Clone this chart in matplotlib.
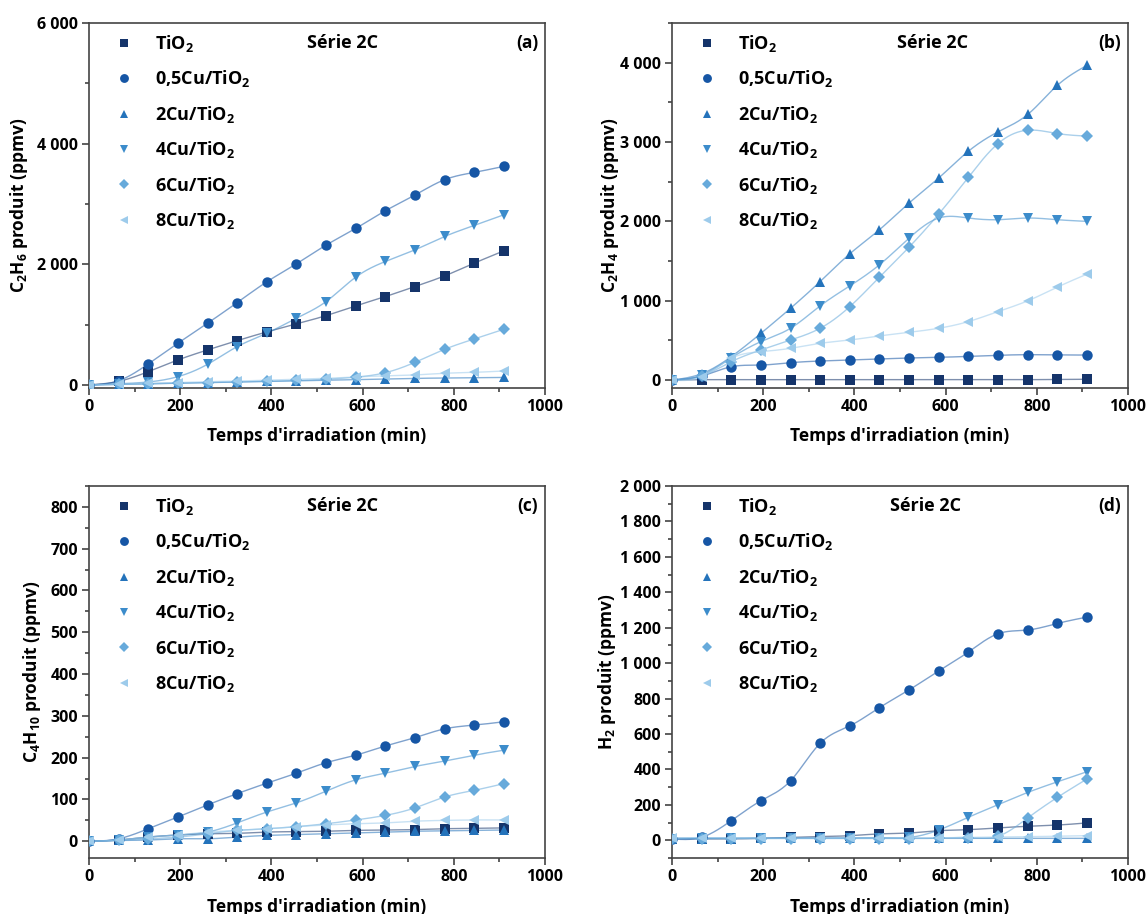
import numpy as np
import matplotlib
matplotlib.use('Agg')
import matplotlib.pyplot as plt
from matplotlib.lines import Line2D
from matplotlib.ticker import MultipleLocator, FuncFormatter

plt.rcParams['font.family'] = ['Open Sans', 'DejaVu Sans']
plt.rcParams['font.weight'] = 'bold'
plt.rcParams['mathtext.fontset'] = 'custom'
plt.rcParams['mathtext.rm'] = 'Open Sans:bold'
plt.rcParams['mathtext.bf'] = 'Open Sans:bold'
plt.rcParams['mathtext.it'] = 'Open Sans:bold'
plt.rcParams['mathtext.default'] = 'bf'

# ---------------- data ----------------
time_min = [0, 65, 130, 195, 260, 325, 390, 455, 520, 585, 650, 715, 780, 845, 910]
samples = ["TiO$_2$", "0,5Cu/TiO$_2$", "2Cu/TiO$_2$", "4Cu/TiO$_2$", "6Cu/TiO$_2$", "8Cu/TiO$_2$"]

# (a) C2H6
c2h6_tio2 = [0, 60, 221, 415, 581, 735, 880, 1013, 1150, 1311, 1466, 1632, 1809, 2020, 2224]
c2h6_05cu = [0, 71, 349, 692, 1024, 1366, 1710, 2009, 2319, 2595, 2888, 3149, 3403, 3524, 3624]
c2h6_2cu = [0, 10, 20, 30, 40, 50, 60, 70, 80, 90, 100, 110, 115, 120, 125]
c2h6_4cu = [0, 20, 50, 138, 343, 636, 858, 1107, 1383, 1788, 2047, 2241, 2462, 2645, 2822]
c2h6_6cu = [0, 10, 20, 30, 40, 50, 60, 75, 95, 130, 204, 376, 592, 763, 924]
c2h6_8cu = [0, 15, 30, 40, 55, 65, 80, 95, 110, 135, 150, 166, 194, 210, 232]

# (b) C2H4
c2h4_tio2 = [0, 5, 5, 5, 5, 5, 5, 5, 5, 5, 5, 5, 5, 8, 10]
c2h4_05cu = [0, 50, 168, 189, 219, 240, 253, 265, 278, 286, 299, 312, 320, 316, 316]
c2h4_2cu = [0, 80, 295, 589, 905, 1242, 1592, 1895, 2232, 2547, 2884, 3128, 3347, 3714, 3966]
c2h4_4cu = [0, 60, 280, 484, 653, 935, 1187, 1453, 1789, 2042, 2042, 2021, 2042, 2021, 2000]
c2h4_6cu = [0, 50, 232, 379, 505, 653, 926, 1297, 1676, 2093, 2556, 2981, 3149, 3107, 3074]
c2h4_8cu = [0, 40, 274, 358, 400, 463, 505, 556, 602, 653, 737, 863, 998, 1171, 1335]

# (c) C4H10
c4h10_tio2 = [0, 3, 10, 15, 18, 19, 22, 23, 24, 26, 27, 28, 30, 31, 32]
c4h10_05cu = [0, 6, 30, 58, 87, 114, 139, 163, 188, 206, 228, 248, 269, 278, 286]
c4h10_2cu = [0, 2, 3, 6, 6, 10, 14, 16, 18, 20, 22, 24, 25, 26, 27]
c4h10_4cu = [0, 3, 10, 15, 22, 44, 70, 92, 120, 147, 163, 179, 192, 206, 218]
c4h10_6cu = [0, 2, 6, 10, 18, 26, 30, 35, 42, 51, 62, 80, 106, 122, 138]
c4h10_8cu = [0, 3, 10, 15, 22, 26, 30, 35, 39, 42, 44, 48, 50, 51, 51]

# (d) H2
h2_tio2 = [10, 8, 8, 11, 17, 21, 26, 36, 41, 54, 60, 70, 79, 86, 98]
h2_05cu = [8, 17, 111, 223, 336, 548, 646, 749, 849, 956, 1063, 1166, 1187, 1224, 1260]
h2_2cu = [10, 10, 10, 11, 11, 11, 11, 11, 11, 11, 11, 11, 11, 11, 11]
h2_4cu = [10, 12, 12, 12, 13, 13, 14, 15, 16, 58, 130, 201, 270, 330, 387]
h2_6cu = [10, 10, 10, 10, 10, 10, 10, 10, 10, 12, 15, 23, 126, 242, 346]
h2_8cu = [12, 15, 12, 12, 12, 12, 12, 12, 12, 14, 16, 18, 20, 23, 26]

panels = [
    dict(series=[c2h6_tio2, c2h6_05cu, c2h6_2cu, c2h6_4cu, c2h6_6cu, c2h6_8cu],
         ylabel="C$_2$H$_6$ produit (ppmv)", tag="(a)", ylim=(-50, 6000), major=2000, minor=1000),
    dict(series=[c2h4_tio2, c2h4_05cu, c2h4_2cu, c2h4_4cu, c2h4_6cu, c2h4_8cu],
         ylabel="C$_2$H$_4$ produit (ppmv)", tag="(b)", ylim=(-100, 4500), major=1000, minor=500),
    dict(series=[c4h10_tio2, c4h10_05cu, c4h10_2cu, c4h10_4cu, c4h10_6cu, c4h10_8cu],
         ylabel="C$_4$H$_{10}$ produit (ppmv)", tag="(c)", ylim=(-40, 850), major=100, minor=50),
    dict(series=[h2_tio2, h2_05cu, h2_2cu, h2_4cu, h2_6cu, h2_8cu],
         ylabel="H$_2$ produit (ppmv)", tag="(d)", ylim=(-100, 2000), major=200, minor=100),
]

colors = ["#15346a", "#1656a5", "#2473bb", "#3c8ccb", "#67aadb", "#9dcbeb"]
markers = ["s", "o", "^", "v", "D", "<"]
msizes = [6.5, 7.5, 7.5, 7.5, 6.5, 7.5]


def natural_spline(x, y, n=400):
    x = np.asarray(x, float)
    y = np.asarray(y, float)
    m = len(x)
    h = np.diff(x)
    A = np.zeros((m, m))
    b = np.zeros(m)
    A[0, 0] = 1
    A[-1, -1] = 1
    for i in range(1, m - 1):
        A[i, i - 1] = h[i - 1]
        A[i, i] = 2 * (h[i - 1] + h[i])
        A[i, i + 1] = h[i]
        b[i] = 6 * ((y[i + 1] - y[i]) / h[i] - (y[i] - y[i - 1]) / h[i - 1])
    M = np.linalg.solve(A, b)
    xs = np.linspace(x[0], x[-1], n)
    idx = np.clip(np.searchsorted(x, xs) - 1, 0, m - 2)
    x0, x1 = x[idx], x[idx + 1]
    hh = x1 - x0
    t0 = x1 - xs
    t1 = xs - x0
    ys = (M[idx] * t0 ** 3 / (6 * hh) + M[idx + 1] * t1 ** 3 / (6 * hh)
          + (y[idx] / hh - M[idx] * hh / 6) * t0 + (y[idx + 1] / hh - M[idx + 1] * hh / 6) * t1)
    return xs, ys


def fmt_thousands(v, pos):
    return "{:,}".format(int(round(v))).replace(",", " ")


W, H = 1147, 914
fig = plt.figure(figsize=(W / 100, H / 100), dpi=100)

# axes rectangles in pixels: left, top, right, bottom
rects = [(89, 23, 545, 388), (672, 23, 1128, 388), (89, 486, 545, 858), (672, 486, 1128, 858)]
ylabel_x = [-0.13, -0.112, -0.10, -0.118]
serie_x = [0.557, 0.572, 0.557, 0.555]

for k, (p, r) in enumerate(zip(panels, rects)):
    l, t, rr, bb = r
    ax = fig.add_axes([l / W, 1 - bb / H, (rr - l) / W, (bb - t) / H])
    for i, ser in enumerate(p["series"]):
        xs, ys = natural_spline(time_min, ser)
        ax.plot(xs, ys, color=colors[i], lw=1.0, alpha=0.55, zorder=2)
        ax.plot(time_min, ser, linestyle="none", marker=markers[i], ms=msizes[i],
                color=colors[i], mec=colors[i], mew=0, zorder=3)
    ax.set_xlim(0, 1000)
    ax.set_ylim(*p["ylim"])
    ax.xaxis.set_major_locator(MultipleLocator(200))
    ax.xaxis.set_minor_locator(MultipleLocator(100))
    ax.yaxis.set_major_locator(MultipleLocator(p["major"]))
    ax.yaxis.set_minor_locator(MultipleLocator(p["minor"]))
    ax.yaxis.set_major_formatter(FuncFormatter(fmt_thousands))
    ax.tick_params(which="both", direction="out", top=False, right=False, width=1.1, color="#333333")
    ax.tick_params(which="major", length=5, labelsize=11.5, pad=3)
    ax.tick_params(which="minor", length=3)
    for lab in ax.get_xticklabels() + ax.get_yticklabels():
        lab.set_fontweight("bold")
    for s in ax.spines.values():
        s.set_linewidth(1.2)
        s.set_color("#444444")
    ax.set_xlabel("Temps d'irradiation (min)", fontsize=12.5, fontweight="bold")
    ax.set_ylabel(p["ylabel"], fontsize=12.5, fontweight="bold")
    ax.yaxis.set_label_coords(ylabel_x[k], 0.5)
    ax.xaxis.set_label_coords(0.5, -0.108)
    ax.text(serie_x[k], 0.945, "Série 2C", transform=ax.transAxes, ha="center", va="center",
            fontsize=13, fontweight="bold")
    ax.text(0.985, 0.945, p["tag"], transform=ax.transAxes, ha="right", va="center",
            fontsize=12.5, fontweight="bold")
    handles = [Line2D([], [], linestyle="none", marker=markers[i], ms=msizes[i] * 0.85,
                      color=colors[i], mew=0) for i in range(6)]
    ax.legend(handles, samples, loc="upper left", bbox_to_anchor=(0.035, 1.0), frameon=False,
              handlelength=1.0, handletextpad=1.2, labelspacing=0.8,
              borderaxespad=0.15, prop={"weight": "bold", "size": 13})

fig.savefig("out.png", dpi=100)
